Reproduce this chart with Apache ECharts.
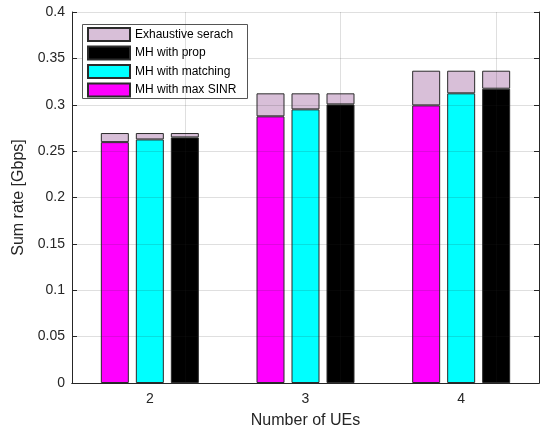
<!DOCTYPE html>
<html>
<head>
<meta charset="utf-8">
<script src="https://cdn.jsdelivr.net/npm/echarts@6/dist/echarts.min.js"></script>
<style>
  html, body { margin: 0; padding: 0; background: #fff; }
  #chart { width: 544px; height: 427px; }
</style>
</head>
<body>
<div id="chart"></div>
<script>
// Sum rate per number of UEs for each association scheme
const ueCounts = ['2', '3', '4'];
const exhaustive = [0.2695, 0.3123, 0.3367];
const mhProp = [0.2648, 0.3004, 0.3173];
const mhMatching = [0.2626, 0.2950, 0.3123];
const mhMaxSinr = [0.2597, 0.2875, 0.2993];
const yTicks = { min: 0, max: 0.4, step: 0.05 };

const FONT = '"Liberation Sans", Arial, Helvetica, sans-serif';
const AX = '#262626';
const GRID = 'rgba(38,38,38,0.15)';
const EDGE = '#2b2b2b';
const EXH_COLOR = '#d8bfd8';

// gap from each scheme up to the exhaustive search optimum
const gapTo = base => exhaustive.map((v, i) => v - base[i]);

function baseSeries(name, data, color, stack) {
  return {
    name, type: 'bar', stack, data,
    barWidth: 28, barGap: '25%',
    itemStyle: { color, borderColor: EDGE, borderWidth: 1 }
  };
}
function exhSeries(stack, base) {
  return {
    name: 'Exhaustive serach', type: 'bar', stack, data: gapTo(base),
    barWidth: 28, barGap: '25%',
    itemStyle: { color: EXH_COLOR, borderColor: EDGE, borderWidth: 1 }
  };
}

const series = [
  baseSeries('MH with max SINR', mhMaxSinr, '#ff00ff', 'sinr'),
  exhSeries('sinr', mhMaxSinr),
  baseSeries('MH with matching', mhMatching, '#00ffff', 'match'),
  exhSeries('match', mhMatching),
  baseSeries('MH with prop', mhProp, '#000000', 'prop'),
  exhSeries('prop', mhProp)
];
// vertical grid lines at each category, drawn over the bars
series[series.length - 1].markLine = {
  silent: true, symbol: 'none',
  label: { show: false },
  lineStyle: { color: GRID, type: 'solid', width: 1 },
  data: ueCounts.map(c => ({ xAxis: c }))
};

const chart = echarts.init(document.getElementById('chart'), null, { renderer: 'canvas' });
chart.setOption({
  animation: false,
  textStyle: { fontFamily: FONT },
  grid: { left: 72, right: 5, top: 12, bottom: 44, containLabel: false, outerBoundsMode: 'none' },
  legend: {
    orient: 'vertical', left: 87, top: 27, padding: 0,
    itemWidth: 42, itemHeight: 13, itemGap: 3.5,
    icon: 'rect',
    textStyle: { fontFamily: FONT, fontSize: 12, color: '#000' },
    data: ['Exhaustive serach', 'MH with prop', 'MH with matching', 'MH with max SINR'],
    selectedMode: false
  },
  graphic: [{
    type: 'rect', z: 3.5,
    shape: { x: 82.5, y: 24.5, width: 165, height: 74 },
    style: { fill: '#fff', stroke: '#555', lineWidth: 1 }
  }],
  xAxis: [{
    type: 'category', data: ueCounts, position: 'bottom',
    name: 'Number of UEs', nameLocation: 'middle', nameGap: 30,
    nameTextStyle: { fontFamily: FONT, fontSize: 16, color: AX },
    axisLine: { lineStyle: { color: AX } },
    axisTick: { inside: true, alignWithLabel: true, length: 5, lineStyle: { color: AX } },
    axisLabel: { fontFamily: FONT, fontSize: 14, color: AX, margin: 9 },
    splitLine: { show: false }
  }, {
    type: 'category', data: ueCounts, position: 'top',
    axisLine: { lineStyle: { color: AX } },
    axisTick: { inside: true, alignWithLabel: true, length: 5, lineStyle: { color: AX } },
    axisLabel: { show: false },
    splitLine: { show: false }
  }],
  yAxis: [{
    type: 'value', position: 'left', z: 3,
    min: yTicks.min, max: yTicks.max, interval: yTicks.step,
    name: 'Sum rate [Gbps]', nameLocation: 'middle', nameGap: 34,
    nameTextStyle: { fontFamily: FONT, fontSize: 16, color: AX },
    axisLine: { show: true, lineStyle: { color: AX } },
    axisTick: { show: true, inside: true, length: 5, lineStyle: { color: AX } },
    axisLabel: { fontFamily: FONT, fontSize: 14, color: AX, margin: 7 },
    splitLine: { show: true, lineStyle: { color: GRID, width: 1 } }
  }, {
    type: 'value', position: 'right',
    min: yTicks.min, max: yTicks.max, interval: yTicks.step,
    axisLine: { show: true, lineStyle: { color: AX } },
    axisTick: { show: true, inside: true, length: 5, lineStyle: { color: AX } },
    axisLabel: { show: false },
    splitLine: { show: false }
  }],
  series
});
</script>
</body>
</html>
